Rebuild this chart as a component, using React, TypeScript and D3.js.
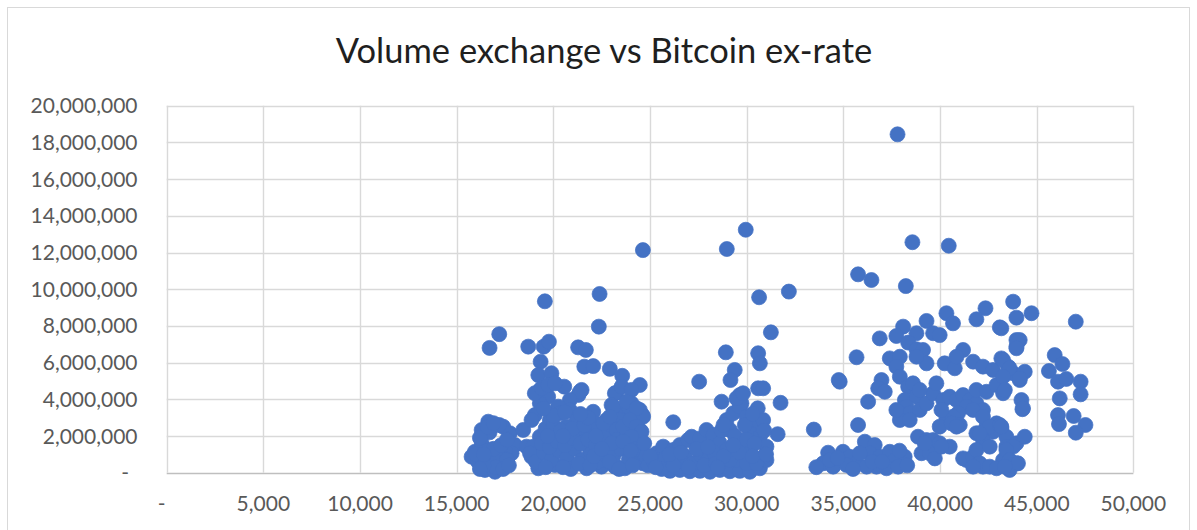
import React from "react";
import * as d3 from "d3";

// Exchange rate in thousands of USD, traded volume in millions.
const RATE_UNIT = 1000;
const VOLUME_UNIT = 1_000_000;

const rateTicks = [0, 5000, 10000, 15000, 20000, 25000, 30000, 35000, 40000, 45000, 50000];
const volumeTicks = [0, 2e6, 4e6, 6e6, 8e6, 10e6, 12e6, 14e6, 16e6, 18e6, 20e6];

// [rate (k USD), volume (M)]
const band16to19: [number, number][] = [
  [16.7, 6.8], [17.2, 7.55], [18.7, 6.87],
  [16.63, 2.78], [17.4, 2.51], [17.75, 2.15], [16.29, 2.33], [18.01, 1.51], [15.94, 1.14],
  [15.77, 0.87], [17.84, 1.06], [16.46, 0.15], [16.98, 0.05], [17.32, 0.51], [18.44, 2.33],
  [16.1, 0.6], [16.3, 1.6], [16.0, 1.0], [16.5, 1.2], [16.8, 0.5], [16.6, 0.8], [17.1, 0.9],
  [17.5, 1.2], [17.6, 0.7], [17.0, 0.3], [16.4, 0.4], [16.9, 1.3], [16.7, 2.2], [17.3, 1.5],
  [16.2, 1.9], [16.6, 2.5], [17.6, 1.8], [17.2, 2.6], [16.9, 2.7], [16.2, 0.2], [17.4, 0.2],
  [16.4, 1.0], [17.7, 0.4],
];

const band19to25: [number, number][] = [
  [19.56, 9.34], [22.39, 9.74], [24.63, 12.13], [22.35, 7.96], [19.5, 6.87], [19.77, 7.14],
  [21.28, 6.83], [21.68, 6.69], [21.6, 5.78], [22.06, 5.81], [22.92, 5.66], [23.56, 5.28],
  [24.47, 4.78], [23.25, 4.35], [23.87, 3.87], [24.61, 3.14], [19.34, 6.05], [19.22, 5.32],
  [19.9, 5.42], [20.56, 4.69], [19.3, 4.5], [19.3, 4.24], [19.73, 4.14], [21.46, 4.51],
  [21.3, 4.24], [19.04, 3.14], [18.87, 2.87], [22.06, 3.32],
  [19.3, 3.78], [19.04, 4.33], [19.39, 4.6], [19.73, 4.78], [20.08, 4.87], [21.37, 4.41],
  [20.85, 3.96], [20.25, 3.6], [22.15, 2.69], [23.18, 4.33], [23.53, 4.69], [23.01, 3.69],
  [22.83, 2.87], [22.66, 2.33], [23.53, 3.24], [23.87, 3.6], [24.04, 4.51],
  [18.87, 0.87], [19.22, 0.24], [20.08, 0.42], [20.85, 0.42], [21.72, 0.24], [22.49, 0.33],
  [23.18, 0.33], [23.7, 0.24], [18.61, 1.42],
  [24.04, 3.78], [24.47, 3.42], [24.64, 3.05], [24.3, 2.33], [24.13, 1.78], [24.47, 1.42],
  [24.3, 0.87], [24.64, 0.51],
  [23.09, 3.6], [23.78, 3.87], [24.3, 3.51], [22.75, 2.87], [23.44, 2.87], [24.47, 2.33],
  [23.27, 1.96], [23.78, 2.15], [24.64, 1.06], [22.58, 1.06], [23.27, 0.33],
  [19.82, 2.87], [20.34, 3.24], [20.85, 3.42], [21.2, 2.87], [20.68, 2.51], [19.82, 2.15],
  [20.34, 1.96], [19.3, 1.96], [18.96, 1.42], [18.79, 1.06], [21.54, 2.15], [22.06, 2.42],
  [22.58, 2.69], [22.92, 3.05], [23.27, 2.33], [23.61, 2.51], [23.96, 2.87], [24.3, 2.51],
  [24.56, 2.23], [24.04, 1.96], [23.27, 1.78],
  [19.1, 0.6], [19.5, 1.1], [19.9, 0.7], [20.3, 1.2], [20.7, 0.8], [21.1, 1.3], [21.5, 0.7],
  [21.9, 1.2], [22.3, 0.6], [22.7, 1.5], [23.1, 0.9], [23.5, 1.3], [23.9, 0.7], [24.3, 1.3],
  [19.4, 1.6], [19.8, 1.4], [20.2, 1.7], [20.6, 1.5], [21.0, 1.9], [21.4, 1.6], [21.8, 1.8],
  [22.2, 1.5], [22.6, 1.9], [23.0, 1.6], [23.6, 1.7], [24.0, 1.2], [19.6, 2.4], [20.0, 2.6],
  [20.4, 2.3], [21.0, 2.4], [21.6, 2.6], [21.8, 3.0], [22.2, 2.0], [20.9, 0.2], [21.3, 0.5],
  [21.9, 0.4], [22.9, 0.6], [23.4, 0.2], [24.1, 0.4], [19.6, 0.3], [20.5, 0.3], [22.1, 0.9],
  [20.0, 3.1], [19.5, 3.5], [20.6, 3.3], [21.4, 3.2], [19.7, 2.0], [20.5, 2.0], [22.5, 1.3],
  [24.8, 0.9], [24.9, 0.4], [24.7, 1.6],
];

const band25to33: [number, number][] = [
  [28.97, 12.19], [29.95, 13.24], [30.64, 9.56], [32.18, 9.87], [31.25, 7.65], [28.92, 6.56],
  [30.59, 6.51], [30.68, 5.96], [29.38, 5.6], [29.16, 5.05], [27.54, 4.96], [30.59, 4.6],
  [30.85, 4.6], [29.64, 4.23], [29.73, 3.78], [28.7, 3.87], [31.75, 3.81], [30.57, 3.51],
  [26.2, 2.75], [31.6, 2.1], [33.47, 2.35],
  [25.34, 1.06], [25.68, 1.42], [26.2, 1.24], [26.54, 1.51], [26.97, 1.78], [27.15, 1.96],
  [27.58, 1.87], [27.92, 2.33], [28.27, 2.05], [28.61, 1.6],
  [25.51, 0.33], [26.03, 0.1], [26.54, 0.15], [27.06, 0.08], [27.58, 0.1], [28.1, 0.05],
  [28.61, 0.15], [29.13, 0.08], [29.64, 0.1], [30.16, 0.05], [30.68, 0.24], [31.02, 0.69],
  [28.96, 2.87], [29.3, 3.24], [29.64, 3.6], [29.13, 2.33], [29.99, 3.05], [30.51, 2.69],
  [30.85, 2.87], [30.16, 2.15], [30.68, 1.96], [31.02, 1.42], [30.85, 0.87], [28.96, 1.24],
  [29.64, 1.6], [30.16, 1.24], [29.47, 0.69], [29.99, 0.51], [30.51, 0.51], [29.13, 0.69],
  [29.47, 4.05], [29.81, 4.33],
  [25.2, 0.6], [25.8, 0.8], [26.4, 0.6], [26.8, 0.9], [27.2, 0.5], [27.6, 1.0], [28.0, 0.7],
  [28.3, 1.1], [25.6, 0.2], [26.2, 0.4], [27.0, 0.3], [27.8, 0.4], [28.4, 0.5], [26.0, 1.0],
  [26.6, 1.1], [27.4, 1.3], [28.0, 1.4], [25.0, 0.9], [25.3, 0.3], [28.7, 2.3], [29.4, 2.0],
  [30.0, 1.8], [30.4, 1.6], [28.8, 0.9], [29.6, 1.1], [30.3, 0.9], [29.3, 1.5], [28.5, 0.3],
  [31.0, 1.0], [30.9, 2.3], [29.9, 2.6], [28.8, 2.6], [30.3, 3.2],
];

const band33to39Low: [number, number][] = [
  [35.76, 2.6], [36.28, 3.87], [34.81, 4.96], [34.21, 1.09], [33.95, 0.51], [34.47, 0.33],
  [34.98, 1.14], [35.33, 0.87], [35.68, 0.51], [36.11, 1.69], [36.62, 1.51], [36.37, 1.06],
  [36.88, 0.87], [37.4, 1.14], [37.66, 0.69], [38.17, 0.87], [36.71, 0.33], [36.2, 0.33],
  [37.23, 0.24], [37.83, 0.33], [34.3, 0.69], [35.16, 0.42], [35.85, 1.06], [33.6, 0.3],
  [34.7, 0.8], [35.5, 0.2], [36.5, 0.6], [37.0, 0.6], [37.9, 1.2], [38.3, 0.4],
];

const band35to48: [number, number][] = [
  [37.8, 18.44], [35.76, 10.81], [36.45, 10.5], [38.57, 12.56], [40.45, 12.37], [38.23, 10.17],
  [43.78, 9.32], [42.35, 8.96], [40.33, 8.69], [39.3, 8.27], [43.95, 8.45],
  [40.67, 8.14], [41.88, 8.36], [43.09, 7.92], [38.09, 7.96], [37.74, 7.45], [38.78, 7.6],
  [38.35, 7.09], [38.78, 6.73], [39.12, 6.69], [39.64, 7.6], [39.98, 7.5], [36.88, 7.32],
  [35.68, 6.29], [37.4, 6.23], [37.92, 6.32], [37.74, 5.78], [39.3, 5.96], [38.78, 6.32],
  [40.24, 5.96], [40.76, 5.69], [41.19, 6.69], [40.85, 6.32], [41.71, 6.05], [42.22, 5.78],
  [42.74, 5.6], [43.17, 6.23], [43.52, 5.78], [43.78, 5.42], [43.95, 6.87], [43.95, 7.23],
  [34.76, 5.05], [36.97, 5.05], [36.8, 4.6], [37.14, 4.41],
  [37.92, 5.23], [38.35, 4.69], [38.6, 4.87], [38.18, 3.96], [38.78, 4.14], [38.26, 3.6],
  [38.0, 3.14], [38.43, 3.24], [38.95, 3.42], [39.3, 3.78], [39.64, 4.33], [39.81, 4.87],
  [38.95, 4.51],
  [40.16, 3.96], [40.5, 4.14], [40.85, 3.96], [41.19, 4.23], [41.54, 3.96], [41.88, 3.78],
  [42.22, 3.42], [41.37, 3.6], [40.93, 3.24],
  [40.33, 2.96], [40.67, 3.05], [39.98, 2.51], [40.59, 2.69], [41.02, 2.6],
  [41.88, 2.15], [42.4, 2.51], [42.92, 2.69], [43.17, 2.42], [42.74, 2.23], [43.43, 1.96],
  [42.22, 1.78],
  [38.86, 1.96], [39.3, 1.78], [39.64, 1.78], [39.98, 1.6], [40.5, 1.42], [39.04, 1.06],
  [39.47, 1.06], [39.73, 0.78], [41.37, 0.69], [41.71, 0.51], [42.22, 0.33],
  [39.21, 1.6], [40.07, 1.42], [41.19, 0.78], [41.71, 0.87],
  [37.92, 2.87], [38.43, 2.87], [37.74, 3.42], [40.07, 3.42], [40.85, 2.51],
  [41.88, 4.51], [42.4, 4.41], [42.92, 4.78], [43.26, 4.33], [44.12, 5.05], [44.21, 3.96],
  [44.26, 3.46], [41.71, 3.42], [42.22, 3.05], [42.57, 2.51], [42.05, 2.15], [43.09, 2.6],
  [41.88, 1.24], [42.57, 1.42], [43.43, 1.42], [43.95, 1.6], [44.38, 1.96], [42.05, 0.51],
  [42.57, 0.33], [43.26, 0.69], [43.95, 0.51], [43.6, 0.15], [41.71, 0.33], [42.92, 0.24],
  [47.02, 8.23], [44.73, 8.69], [43.17, 7.87], [44.12, 7.23], [43.95, 6.78], [45.93, 6.41],
  [46.33, 5.92], [45.63, 5.54], [46.1, 4.96], [46.53, 5.11], [47.27, 4.96], [46.19, 4.05],
  [47.27, 4.27], [46.1, 3.14], [46.15, 2.65], [46.91, 3.09], [47.52, 2.6], [47.02, 2.18],
  [43.26, 6.14], [43.6, 5.69], [43.26, 5.23], [44.38, 5.5], [44.12, 5.14], [43.35, 4.51],
  [44.29, 3.51], [43.17, 2.51], [43.78, 1.42], [43.43, 1.24], [43.6, 0.69], [44.03, 0.51],
  [43.35, 0.33],
];

const allPoints = [...band16to19, ...band19to25, ...band25to33, ...band33to39Low, ...band35to48].map(
  ([r, v]) => ({ rate: r * RATE_UNIT, volume: v * VOLUME_UNIT })
);

const W = 1197;
const H = 530;
const plot = { left: 166.7, right: 1133.4, top: 105.7, bottom: 472.7 };

const FONT = "Lato, 'Open Sans', sans-serif";
const LABEL_COLOR = "#595959";
const GRID = "#d9d9d9";
const MARKER = "#4472C4";

const fmt = d3.format(",");
const tickText = (v: number) => (v === 0 ? "-" : fmt(v));

export default function App() {
  const x = d3.scaleLinear().domain([0, 50000]).range([plot.left, plot.right]);
  const y = d3.scaleLinear().domain([0, 20e6]).range([plot.bottom, plot.top]);

  return (
    <svg
      width={W}
      height={H}
      viewBox={`0 0 ${W} ${H}`}
      style={{ position: "absolute", left: 0, top: 0, background: "#fff" }}
      fontFamily={FONT}
    >
      <rect x={7.5} y={7.5} width={1182} height={540} fill="#fff" stroke={GRID} strokeWidth={1} />

      <text x={604} y={63} textAnchor="middle" fontSize={34.5} fill="#1f1f1f">
        Volume exchange vs Bitcoin ex-rate
      </text>

      {/* horizontal gridlines and volume labels */}
      {volumeTicks.map((t) => (
        <g key={`y${t}`}>
          <line
            x1={plot.left}
            x2={plot.right}
            y1={Math.round(y(t)) + 0.5}
            y2={Math.round(y(t)) + 0.5}
            stroke={t === 0 ? "#bfbfbf" : GRID}
            strokeWidth={1.4}
          />
          <text
            x={t === 0 ? 129 : 137.5}
            y={y(t)}
            dy="0.36em"
            textAnchor="end"
            fontSize={21}
            fill={LABEL_COLOR}
          >
            {tickText(t)}
          </text>
        </g>
      ))}

      {/* vertical gridlines and rate labels */}
      {rateTicks.map((t) => (
        <g key={`x${t}`}>
          <line
            x1={Math.round(x(t)) + 0.5}
            x2={Math.round(x(t)) + 0.5}
            y1={plot.top}
            y2={plot.bottom}
            stroke={GRID}
            strokeWidth={1.4}
          />
          <text
            x={t === 0 ? x(t) - 5 : x(t)}
            y={503}
            dy="0.36em"
            textAnchor="middle"
            fontSize={21}
            fill={LABEL_COLOR}
          >
            {tickText(t)}
          </text>
        </g>
      ))}

      <g>
        {allPoints.map((p, i) => (
          <circle key={i} cx={x(p.rate)} cy={y(p.volume)} r={7.5} fill={MARKER} stroke={MARKER} strokeWidth={0.75} />
        ))}
      </g>
    </svg>
  );
}
